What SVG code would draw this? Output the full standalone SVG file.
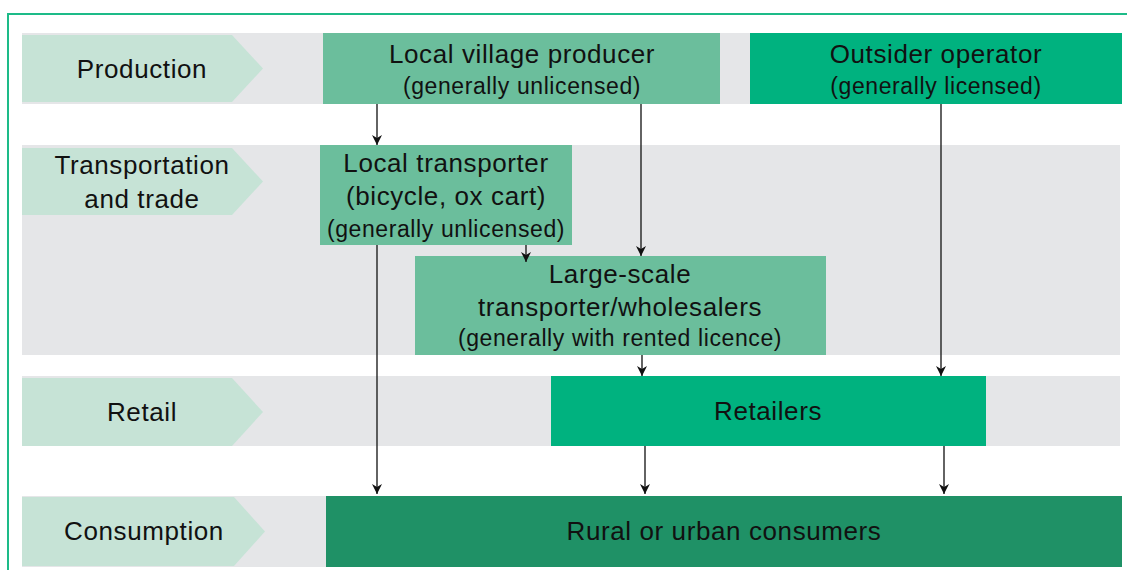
<svg xmlns="http://www.w3.org/2000/svg" width="1127" height="570" viewBox="0 0 1127 570">
  <defs>
    <marker id="arrow" viewBox="0 0 10 10" refX="10" refY="5" markerWidth="10" markerHeight="10" markerUnits="userSpaceOnUse" orient="auto">
      <path d="M0,0 L10,5 L0,10 L3,5 Z" fill="#111"/>
    </marker>
    <style>
      .band { fill: #e5e6e8; }
      .stage { fill: #c6e3d6; }
      .lbl { font-family: "Liberation Sans", Arial, sans-serif; font-size: 26px; letter-spacing: 0.6px; fill: #111; text-anchor: middle; }
      .sub { font-family: "Liberation Sans", Arial, sans-serif; font-size: 23px; letter-spacing: 0.6px; fill: #111; text-anchor: middle; }
      .mid { fill: #6bbe9c; }
      .bright { fill: #00b27f; }
      .dark { fill: #1f9166; }
      .edge { fill: none; stroke: #222; stroke-width: 1.4; marker-end: url(#arrow); }
    </style>
  </defs>

  <!-- outer frame -->
  <path d="M8,570 L8,14 L1127,14" fill="none" stroke="#1dbb88" stroke-width="2"/>

  <!-- stage bands -->
  <g id="bands">
    <rect class="band" x="22" y="33" width="1098" height="71"/>
    <rect class="band" x="22" y="145" width="1098" height="210"/>
    <rect class="band" x="22" y="376" width="1098" height="70"/>
    <rect class="band" x="22" y="496" width="1098" height="71"/>
  </g>

  <g id="stage-production">
    <polygon class="stage" points="22,35 232,35 263,68.5 232,102 22,102"/>
    <text class="lbl" x="142" y="78">Production</text>
  </g>
  <g id="stage-transport">
    <polygon class="stage" points="22,148 232,148 263,181.5 232,215 22,215"/>
    <text class="lbl" x="142" y="174">Transportation</text>
    <text class="lbl" x="142" y="208">and trade</text>
  </g>
  <g id="stage-retail">
    <polygon class="stage" points="22,378 232,378 263,412 232,446 22,446"/>
    <text class="lbl" x="142" y="421">Retail</text>
  </g>
  <g id="stage-consumption">
    <polygon class="stage" points="22,497 234,497 265,531.5 234,566 22,566"/>
    <text class="lbl" x="144" y="540">Consumption</text>
  </g>

  <!-- actors -->
  <g id="local-producer">
    <rect class="mid" x="323" y="33" width="397" height="71"/>
    <text class="lbl" x="522" y="63">Local village producer</text>
    <text class="sub" x="522" y="94">(generally unlicensed)</text>
  </g>
  <g id="outsider-operator">
    <rect class="bright" x="750" y="33" width="372" height="71"/>
    <text class="lbl" x="936" y="63">Outsider operator</text>
    <text class="sub" x="936" y="94">(generally licensed)</text>
  </g>
  <g id="local-transporter">
    <rect class="mid" x="320" y="145" width="252" height="100"/>
    <text class="lbl" x="446" y="172">Local transporter</text>
    <text class="lbl" x="446" y="205">(bicycle, ox cart)</text>
    <text class="sub" x="446" y="237">(generally unlicensed)</text>
  </g>
  <g id="large-scale">
    <rect class="mid" x="415" y="256" width="411" height="99"/>
    <text class="lbl" x="620" y="283">Large-scale</text>
    <text class="lbl" x="620" y="316">transporter/wholesalers</text>
    <text class="sub" x="620" y="346">(generally with rented licence)</text>
  </g>
  <g id="retailers">
    <rect class="bright" x="551" y="376" width="435" height="70"/>
    <text class="lbl" x="768" y="420">Retailers</text>
  </g>
  <g id="consumers">
    <rect class="dark" x="326" y="496" width="796" height="71"/>
    <text class="lbl" x="724" y="540">Rural or urban consumers</text>
  </g>

  <!-- flows -->
  <g id="connectors">
    <line class="edge" x1="377" y1="104" x2="377" y2="145"/>
    <line class="edge" x1="641" y1="104" x2="641" y2="256"/>
    <line class="edge" x1="526" y1="245" x2="526" y2="262"/>
    <line class="edge" x1="377" y1="245" x2="377" y2="494"/>
    <line class="edge" x1="642" y1="355" x2="642" y2="376"/>
    <line class="edge" x1="941" y1="104" x2="941" y2="376"/>
    <line class="edge" x1="645" y1="446" x2="645" y2="494"/>
    <line class="edge" x1="944" y1="446" x2="944" y2="494"/>
  </g>
</svg>
